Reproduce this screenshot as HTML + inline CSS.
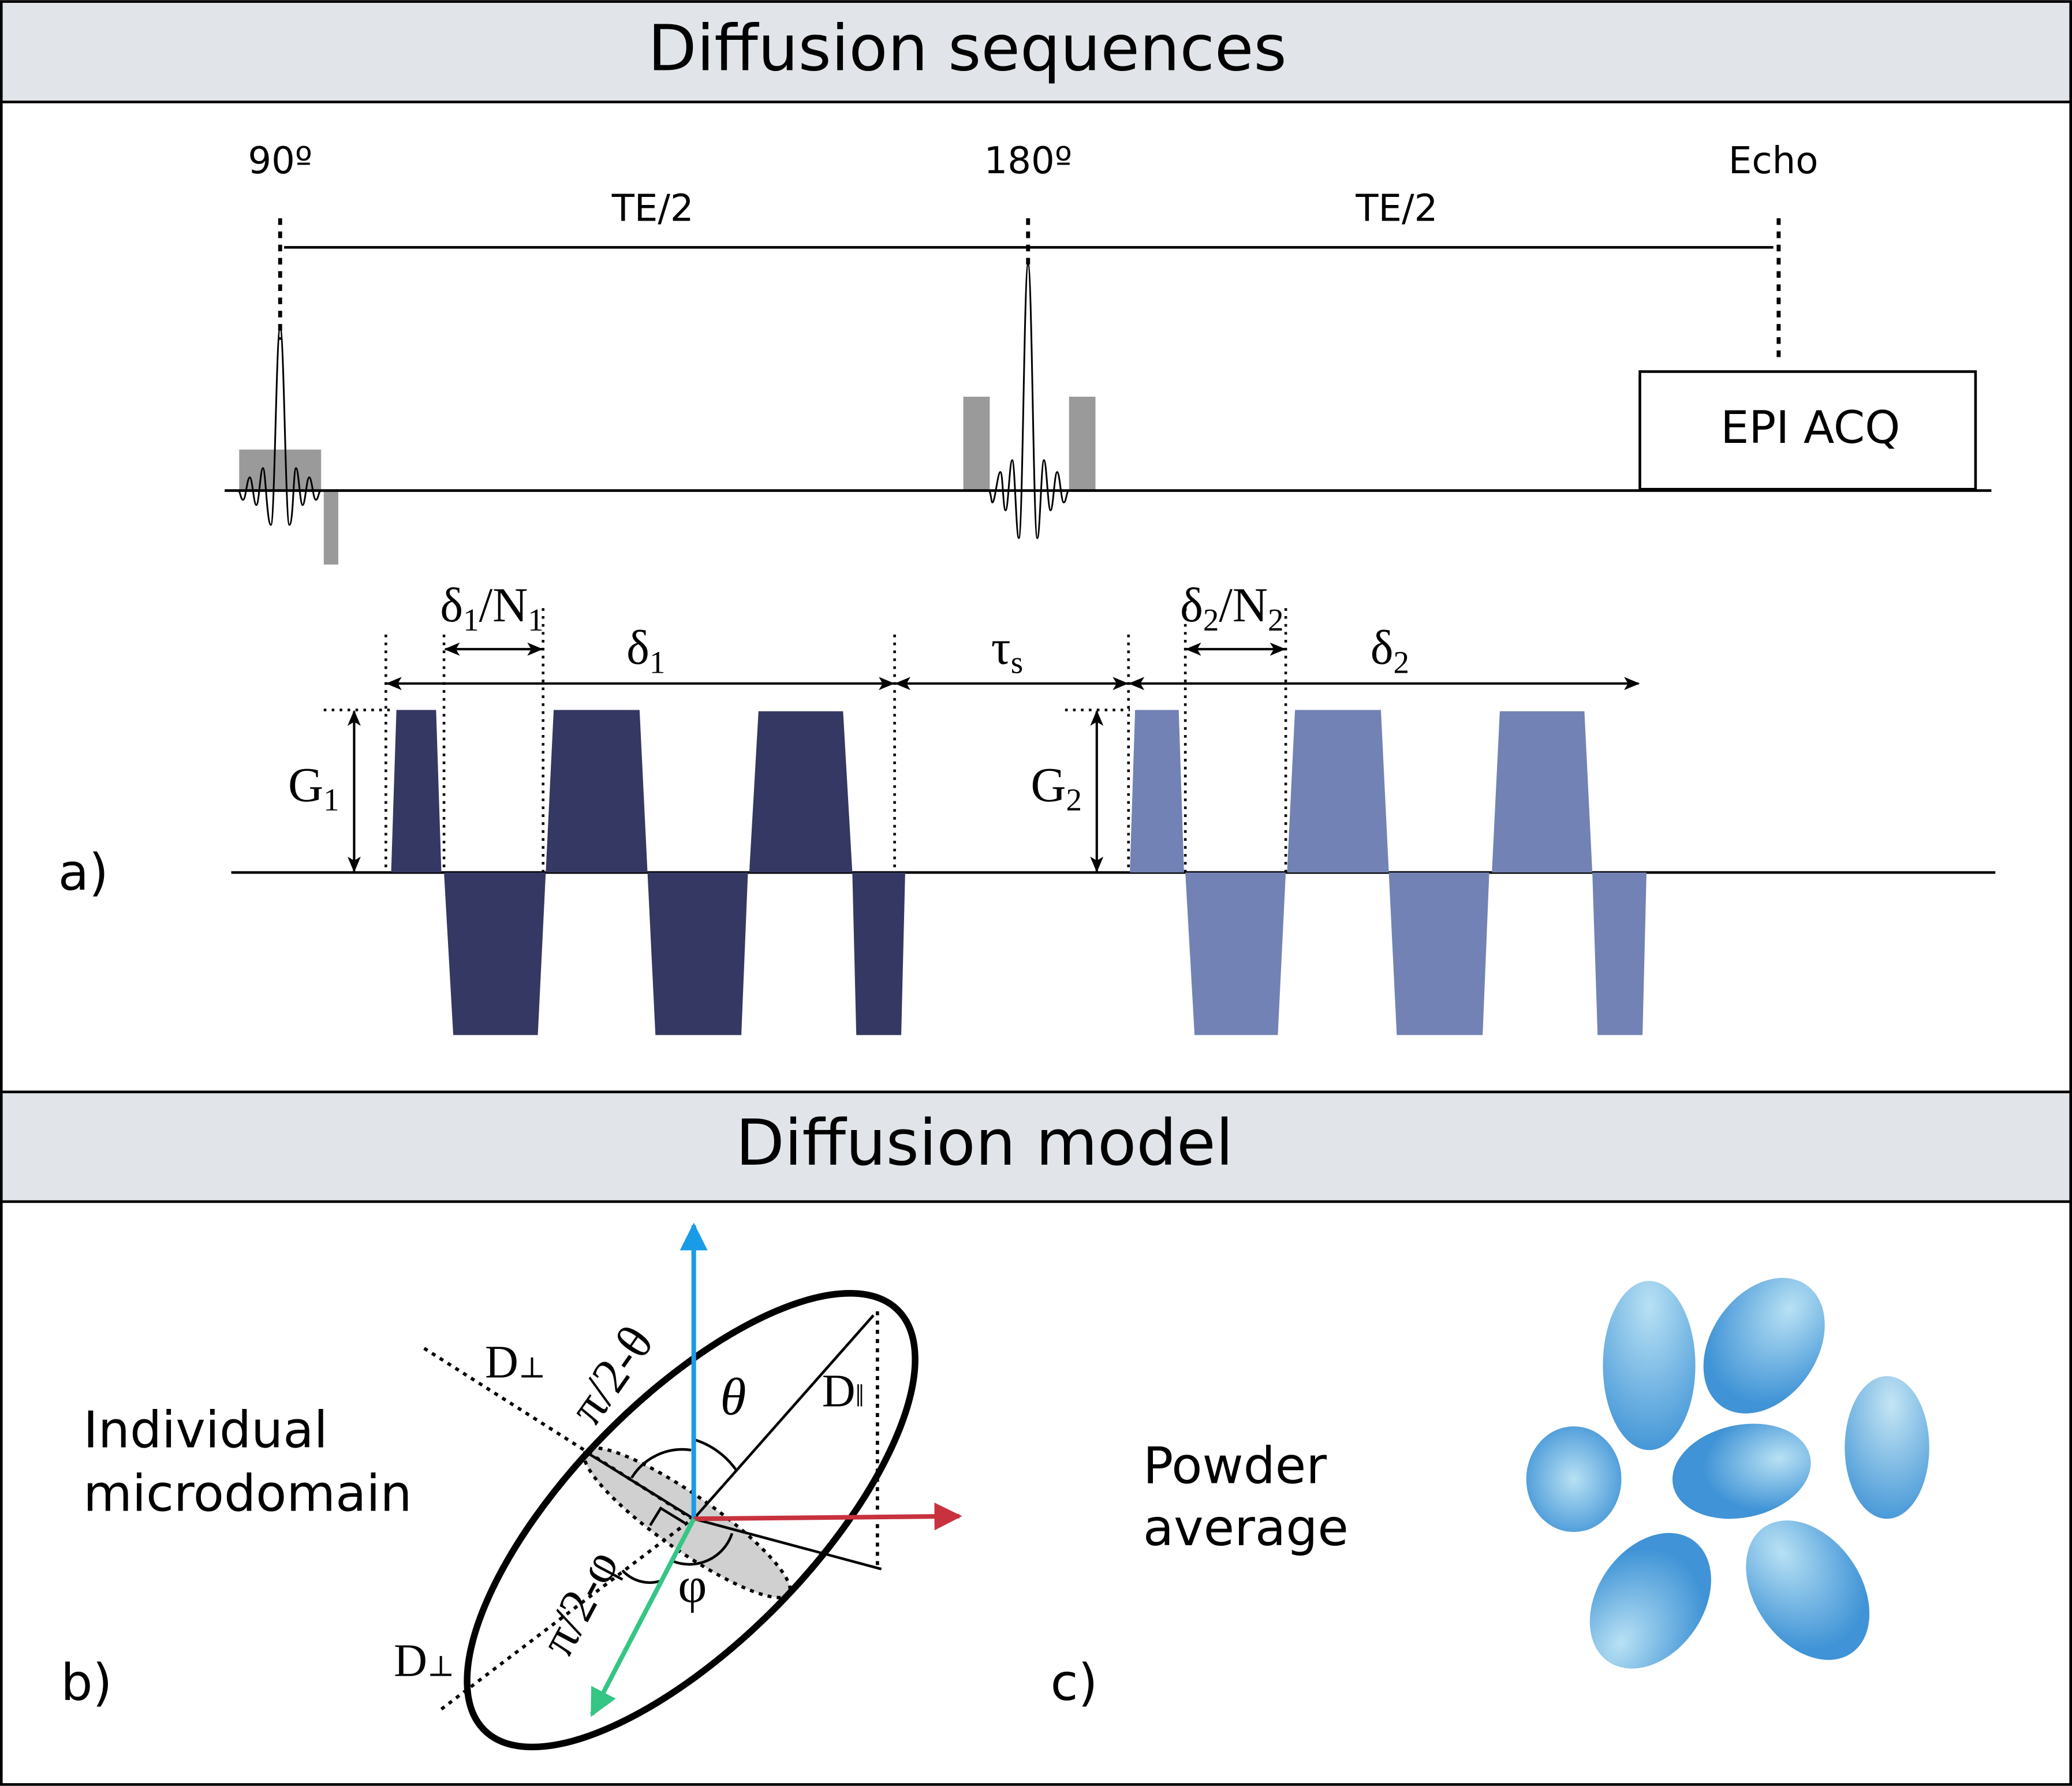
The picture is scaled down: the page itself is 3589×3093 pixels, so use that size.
<!DOCTYPE html>
<html><head><meta charset="utf-8"><style>
html,body{margin:0;padding:0;background:#fff}
svg{display:block}
.s{font-family:"DejaVu Sans","Liberation Sans",sans-serif}
.m{font-family:"Liberation Serif","DejaVu Serif",serif}
</style></head><body>
<svg width="3589" height="3093" viewBox="0 0 1568 1351" xmlns="http://www.w3.org/2000/svg">
<defs>
<marker id="ah" viewBox="0 0 12 10" refX="11" refY="5" markerWidth="12" markerHeight="10" markerUnits="userSpaceOnUse" orient="auto-start-reverse">
<path d="M0,0 L12,5 L0,10 L3,5 Z" fill="#000"/></marker>
<marker id="bl" viewBox="0 0 10 10" refX="9" refY="5" markerWidth="6" markerHeight="6" orient="auto"><path d="M0,0L10,5L0,10Z" fill="#1a9be8"/></marker>
<marker id="rd" viewBox="0 0 10 10" refX="9" refY="5" markerWidth="6" markerHeight="6" orient="auto"><path d="M0,0L10,5L0,10Z" fill="#c8323e"/></marker>
<marker id="gr" viewBox="0 0 10 10" refX="9" refY="5" markerWidth="6" markerHeight="6" orient="auto"><path d="M0,0L10,5L0,10Z" fill="#35c585"/></marker>
<radialGradient id="g1" cx="0.5" cy="0.15" r="0.9"><stop offset="0" stop-color="#b8e1f4"/><stop offset="1" stop-color="#3f93d6"/></radialGradient>
<radialGradient id="g2" cx="0.5" cy="0.5" r="0.6"><stop offset="0" stop-color="#b8e1f4"/><stop offset="1" stop-color="#3f93d6"/></radialGradient>
<radialGradient id="g3" cx="0.55" cy="0.2" r="0.8"><stop offset="0" stop-color="#c4e5f4"/><stop offset="1" stop-color="#4a9ad8"/></radialGradient>
<radialGradient id="g4" cx="0.78" cy="0.45" r="0.55"><stop offset="0" stop-color="#b8e1f4"/><stop offset="1" stop-color="#3f93d6"/></radialGradient>
<radialGradient id="g5" cx="0.5" cy="0.85" r="0.7"><stop offset="0" stop-color="#b8e1f4"/><stop offset="1" stop-color="#3f93d6"/></radialGradient>
<radialGradient id="g6" cx="0.5" cy="0.2" r="0.7"><stop offset="0" stop-color="#b8e1f4"/><stop offset="1" stop-color="#3f93d6"/></radialGradient>
</defs>
<rect x="1" y="1" width="1566" height="1349" fill="#fff" stroke="#000" stroke-width="2"/>
<rect x="1" y="1" width="1566" height="76" fill="#e1e5ea" stroke="#000" stroke-width="2"/>
<rect x="1" y="826" width="1566" height="83" fill="#e1e5ea" stroke="#000" stroke-width="2"/>
<text x="732" y="53" class="s" font-size="48" text-anchor="middle">Diffusion sequences</text>
<text x="745" y="881" class="s" font-size="48" text-anchor="middle">Diffusion model</text>

<!-- RF -->
<g class="s" font-size="28" text-anchor="middle">
<text x="212" y="131">90º</text><text x="778" y="131">180º</text><text x="1342" y="131">Echo</text>
<text x="494" y="167">TE/2</text><text x="1057" y="167">TE/2</text>
</g>
<line x1="215" y1="187" x2="1342" y2="187" stroke="#000" stroke-width="2"/>
<g stroke="#000" stroke-width="3" stroke-dasharray="5,5">
<line x1="212" y1="165" x2="212" y2="257"/><line x1="778" y1="165" x2="778" y2="200"/><line x1="1346" y1="165" x2="1346" y2="275"/>
</g>
<rect x="181" y="340" width="62" height="31" fill="#9a9a9a"/>
<rect x="245" y="371" width="11" height="56" fill="#9a9a9a"/>
<rect x="729" y="300" width="20" height="71" fill="#9a9a9a"/>
<rect x="809" y="300" width="20" height="71" fill="#9a9a9a"/>
<line x1="170" y1="371" x2="1507" y2="371" stroke="#000" stroke-width="2"/>
<path fill="none" stroke="#000" stroke-width="1.3" d="M180,371 C182,371 182,378 184,378 C186,378 187,361 189,361 C191,361 192,382 194,382 C196,382 197,354 199,354 C201,354 202,397 205,397 C208,397 209,248 212,248 C215,248 216,397 219,397 C222,397 222,354 224,354 C226,354 227,382 229,382 C231,382 232,361 234,361 C236,361 237,378 239,378 C241,378 241,371 243,371"/>
<path fill="none" stroke="#000" stroke-width="1.3" d="M748,371 C750,371 750,380 751,380 C753,380 755,357 757,357 C759,357 759,386 761,386 C763,386 764,348 766,348 C768,348 769,407 771,407 C774,407 775,200 778,200 C781,200 782,407 785,407 C787,407 788,348 790,348 C792,348 793,386 795,386 C797,386 798,357 800,357 C802,357 803,380 805,380 C807,380 807,371 809,371"/>
<rect x="1241" y="281" width="254" height="89" fill="#fff" stroke="#000" stroke-width="2"/>
<text x="1370" y="335" class="s" font-size="34" text-anchor="middle">EPI ACQ</text>

<!-- Gradients -->
<line x1="175" y1="660" x2="1510" y2="660" stroke="#000" stroke-width="2"/>
<g fill="#343862">
<polygon points="296,660 300,537 330,537 334,660"/>
<polygon points="336,660 413,660 407,783 343,783"/>
<polygon points="413,660 419,537 484,537 490,660"/>
<polygon points="490,660 566,660 561,783 496,783"/>
<polygon points="567,660 574,538 638,538 645,660"/>
<polygon points="645,660 685,660 682,783 648,783"/>
</g>
<g fill="#7282b4">
<polygon points="855,660 859,537 892,537 896,660"/>
<polygon points="897,660 973,660 967,783 904,783"/>
<polygon points="974,660 980,537 1045,537 1051,660"/>
<polygon points="1051,660 1127,660 1122,783 1057,783"/>
<polygon points="1129,660 1135,538 1199,538 1205,660"/>
<polygon points="1205,660 1246,660 1243,783 1209,783"/>
</g>
<g stroke="#000" stroke-width="2" stroke-dasharray="2,4">
<line x1="292" y1="480" x2="292" y2="660"/><line x1="336" y1="480" x2="336" y2="660"/><line x1="411" y1="460" x2="411" y2="660"/>
<line x1="677" y1="480" x2="677" y2="660"/><line x1="854" y1="480" x2="854" y2="660"/><line x1="897" y1="460" x2="897" y2="660"/><line x1="973" y1="460" x2="973" y2="660"/>
<line x1="245" y1="537" x2="296" y2="537"/><line x1="806" y1="537" x2="855" y2="537"/>
</g>
<g stroke="#000" stroke-width="1.8" fill="none">
<line x1="293" y1="517" x2="676" y2="517" marker-start="url(#ah)" marker-end="url(#ah)"/>
<line x1="678" y1="517" x2="853" y2="517" marker-start="url(#ah)" marker-end="url(#ah)"/>
<line x1="855" y1="517" x2="1240" y2="517" marker-start="url(#ah)" marker-end="url(#ah)"/>
<line x1="337" y1="491" x2="410" y2="491" marker-start="url(#ah)" marker-end="url(#ah)"/>
<line x1="898" y1="491" x2="972" y2="491" marker-start="url(#ah)" marker-end="url(#ah)"/>
<line x1="268" y1="538" x2="268" y2="659" marker-start="url(#ah)" marker-end="url(#ah)"/>
<line x1="830" y1="538" x2="830" y2="659" marker-start="url(#ah)" marker-end="url(#ah)"/>
</g>
<g class="m" font-size="37">
<text x="333" y="470">δ<tspan font-size="24" dy="7">1</tspan><tspan dy="-7">/N</tspan><tspan font-size="24" dy="7">1</tspan></text>
<text x="474" y="502">δ<tspan font-size="24" dy="7">1</tspan></text>
<text x="750" y="502">τ<tspan font-size="24" dy="7">s</tspan></text>
<text x="893" y="470">δ<tspan font-size="24" dy="7">2</tspan><tspan dy="-7">/N</tspan><tspan font-size="24" dy="7">2</tspan></text>
<text x="1037" y="502">δ<tspan font-size="24" dy="7">2</tspan></text>
<text x="218" y="606">G<tspan font-size="24" dy="7">1</tspan></text>
<text x="780" y="606">G<tspan font-size="24" dy="7">2</tspan></text>
</g>
<text x="44" y="673" class="s" font-size="38">a)</text>

<!-- Model -->
<g class="s" font-size="38">
<text x="63" y="1095">Individual</text><text x="63" y="1143">microdomain</text>
<text x="865" y="1122">Powder</text><text x="865" y="1169">average</text>
<text x="46" y="1286">b)</text><text x="795" y="1286">c)</text>
</g>
<ellipse cx="520" cy="1152" rx="94" ry="21" transform="rotate(35 520 1152)" fill="#d0d0d0" stroke="#000" stroke-width="2.5" stroke-dasharray="3,4"/>
<ellipse cx="523" cy="1150" rx="223" ry="92" transform="rotate(-45.5 523 1150)" fill="none" stroke="#000" stroke-width="5"/>
<g stroke="#000" stroke-width="2.5" stroke-dasharray="3,4" fill="none">
<line x1="321" y1="1020" x2="524" y2="1149"/>
<line x1="334" y1="1293" x2="524" y2="1149"/>
<line x1="664" y1="992" x2="664" y2="1184"/>
</g>
<g stroke="#000" stroke-width="2" fill="none">
<line x1="525" y1="1149" x2="661" y2="995"/>
<line x1="525" y1="1149" x2="667" y2="1187"/>
<line x1="446" y1="1100" x2="525" y2="1149"/>
<path d="M492,1154 L500,1141 L518,1152"/>
<path d="M525,1089 A60,60 0 0 1 557,1112"/>
<path d="M478,1118 A45,45 0 0 1 523,1097"/>
<path d="M509,1181 A34,34 0 0 0 554,1160"/>
<path d="M471,1188 A28,28 0 0 0 500,1196"/>
</g>
<line x1="525" y1="1149" x2="525" y2="927" stroke="#1a9be8" stroke-width="3.5" marker-end="url(#bl)"/>
<line x1="525" y1="1149" x2="726" y2="1147" stroke="#c8323e" stroke-width="3.5" marker-end="url(#rd)"/>
<line x1="525" y1="1149" x2="448" y2="1297" stroke="#35c585" stroke-width="3.5" marker-end="url(#gr)"/>
<g class="m" font-size="35">
<text x="367" y="1042">D<tspan font-size="22">⊥</tspan></text>
<text x="298" y="1268">D<tspan font-size="22">⊥</tspan></text>
<text x="622" y="1064">D<tspan font-size="24">‖</tspan></text>
<text x="545" y="1070" font-size="40" font-style="italic">θ</text>
<text x="513" y="1212" font-size="38">φ</text>
<text transform="translate(450,1080) rotate(-55)" font-size="38">π/2-θ</text>
<text transform="translate(430,1255) rotate(-62)" font-size="38">π/2-φ</text>
</g>
<!-- blobs -->
<ellipse cx="1248" cy="1033" rx="35" ry="64" fill="url(#g1)"/>
<ellipse cx="1335" cy="1018" rx="40" ry="56" transform="rotate(35 1335 1018)" fill="url(#g6)"/>
<ellipse cx="1428" cy="1095" rx="32" ry="54" fill="url(#g3)"/>
<ellipse cx="1191" cy="1119" rx="36" ry="40" fill="url(#g2)"/>
<ellipse cx="1318" cy="1113" rx="53" ry="35" transform="rotate(-12 1318 1113)" fill="url(#g4)"/>
<ellipse cx="1249" cy="1211" rx="40" ry="56" transform="rotate(35 1249 1211)" fill="url(#g5)"/>
<ellipse cx="1368" cy="1203" rx="40" ry="58" transform="rotate(-35 1368 1203)" fill="url(#g6)"/>
</svg>
</body></html>
